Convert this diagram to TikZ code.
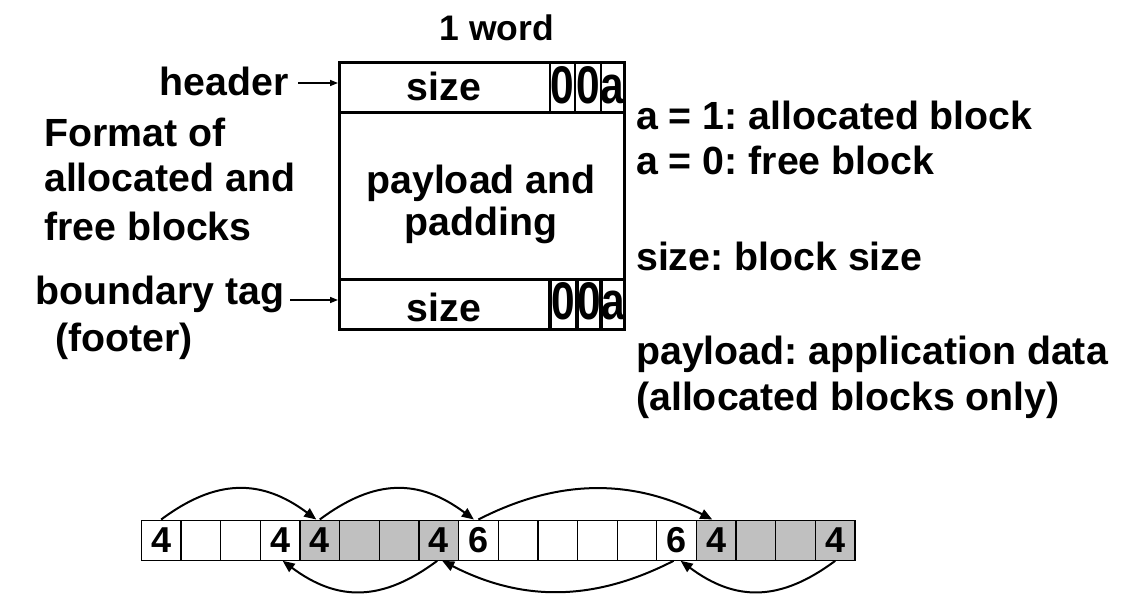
\documentclass[tikz,border=0pt]{standalone}
\usepackage{graphicx}
\usepackage{fontspec}
\setmainfont{Liberation Sans}
\usetikzlibrary{arrows.meta}
\definecolor{shade}{RGB}{192,192,192}
\newcommand\sqz[1]{\scalebox{0.8}[1]{#1}}
\frenchspacing
\begin{document}
\begin{tikzpicture}[x=1pt,y=-1pt,
  txt/.style={inner sep=0pt, font=\fontsize{39.3}{44}\selectfont\bfseries},
  small/.style={inner sep=0pt, font=\fontsize{35.5}{40}\selectfont\bfseries},
  bits/.style={inner sep=0pt, anchor=base, font=\fontsize{53}{53}\selectfont\bfseries},
  field/.style={draw, line width=3.2pt, inner sep=0pt, minimum width=285pt, anchor=north west},
  cellbox/.style={draw, line width=1.3pt, minimum width=39.65pt, minimum height=40pt, inner sep=0pt, anchor=north west, font=\fontsize{36}{38}\selectfont\bfseries},
  link/.style={line width=2pt, -{Triangle[length=12pt,width=10pt]}},
  ptr/.style={line width=1.5pt, -{Triangle[length=8pt,width=6pt]}}
]
\path[fill=white, use as bounding box] (0,0) rectangle (1128,603);

% block format
\node[field, minimum height=50pt] (hdr) at (338,61) {};
\node[field, minimum height=167pt] (body) at (338,111) {};
\node[field, minimum height=50pt] (ftr) at (338,278) {};
\draw[line width=2.2pt] (550,61) -- (550,111) (575,61) -- (575,111) (601,61) -- (601,111);
\draw[line width=3.2pt] (550,278) -- (550,328) (577,278) -- (577,328) (601,278) -- (601,328);

\node[small, anchor=base] (word) at (497,40) {1 word};
\node[txt, anchor=base] (hsize) at (444,100) {size};
\node[bits] (h0a) at (562.5,103) {\sqz{0}};
\node[bits] (h0b) at (588,103) {\sqz{0}};
\node[bits] (ha) at (612.5,103) {\sqz{a}};
\node[txt, anchor=base] (pay1) at (481,193) {payload and};
\node[txt, anchor=base] (pay2) at (481,235) {padding};
\node[txt, anchor=base] (fsize) at (444,321) {size};
\node[bits] (f0a) at (563.5,319) {\sqz{0}};
\node[bits] (f0b) at (589,319) {\sqz{0}};
\node[bits] (fa) at (613,319) {\sqz{a}};

% left labels
\node[txt, anchor=base east] (hlab) at (289,95) {header};
\node[txt, anchor=base west] (l1) at (44,146.7) {Format of};
\node[txt, anchor=base west] (l2) at (44,191.7) {allocated and};
\node[txt, anchor=base west] (l3) at (44,240) {free blocks};
\node[txt, anchor=base west] (blab) at (35,304) {boundary tag};
\node[txt, anchor=base west] (flab) at (55,351) {(footer)};
\coordinate (hstart) at (298,83);
\coordinate (fstart) at (290,300);
\draw[ptr] (hstart) -- (hstart -| hdr.west);
\draw[ptr] (fstart) -- (fstart -| ftr.west);

% right labels
\node[txt, anchor=base west] (r1) at (636,129) {a = 1: allocated block};
\node[txt, anchor=base west] (r2) at (636,174) {a = 0: free block};
\node[txt, anchor=base west] (r3) at (636,270.7) {size: block size};
\node[txt, anchor=base west] (r4) at (636,364.3) {payload: application data};
\node[txt, anchor=base west] (r5) at (636,410) {(allocated blocks only)};

% heap array
\foreach[count=\i from 0] \t/\f in {4/white, /white, /white, 4/white, 4/shade, /shade, /shade, 4/shade, 6/white, /white, /white, /white, /white, 6/white, 4/shade, /shade, /shade, 4/shade}
  \node[cellbox, fill=\f] (c\i) at ({140.7+\i*39.65},519.5) {\t};

\draw[link] (c0.north) .. controls +(55,-41) and +(-55,-41) .. ([xshift=-3.5pt]c4.north);
\draw[link] (c4.north) .. controls +(55,-41) and +(-55,-41) .. ([xshift=-4.5pt]c8.north);
\draw[link] (c8.north) .. controls +(80,-41) and +(-80,-41) .. ([xshift=-4pt]c14.north);
\draw[link] (c17.south) .. controls +(-55,41) and +(55,41) .. ([xshift=4pt]c13.south);
\draw[link] ([xshift=-3pt]c13.south) .. controls +(-80,41) and +(80,41) .. ([xshift=3.5pt]c7.south);
\draw[link] ([xshift=-1.5pt]c7.south) .. controls +(-55,41) and +(55,41) .. ([xshift=2.5pt]c3.south);
\end{tikzpicture}
\end{document}
